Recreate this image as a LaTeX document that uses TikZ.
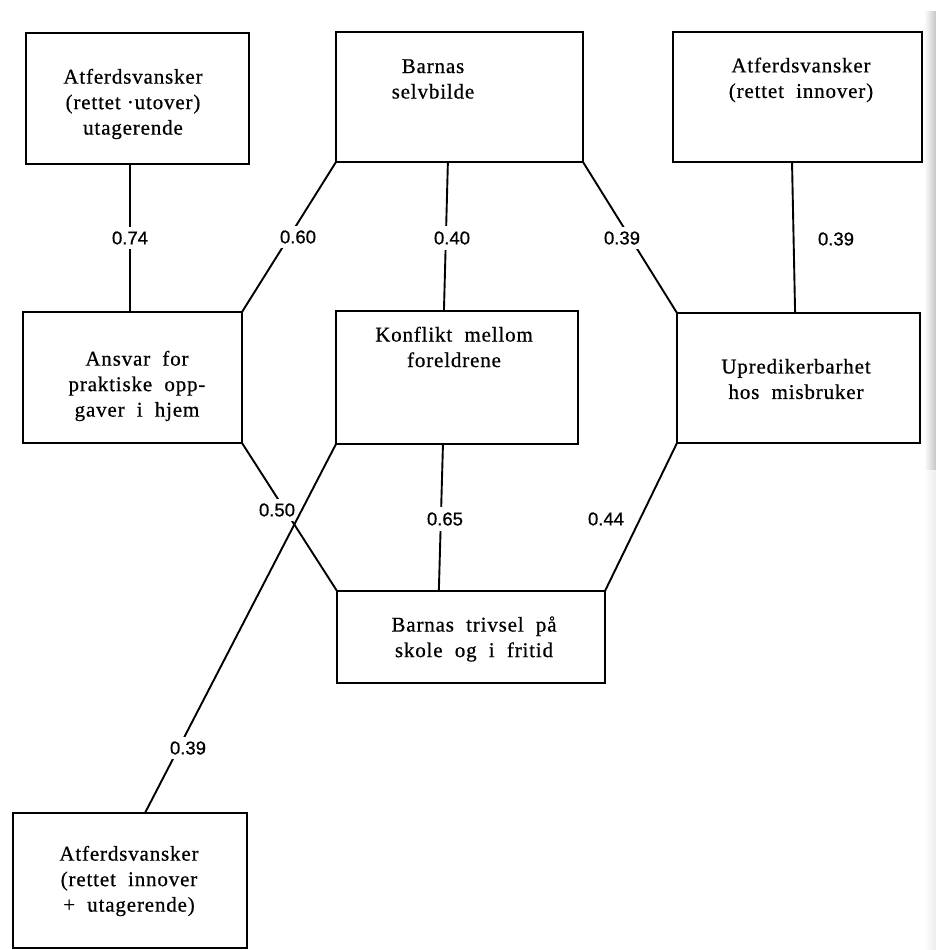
\documentclass[tikz,border=0pt]{standalone}
\usepackage{fontspec}
\setmainfont{Liberation Serif}[LetterSpace=4, FakeBold=0.6]
\newfontfamily\numfont{Liberation Sans}[FakeBold=0.8]
\usetikzlibrary{calc}
\begin{document}
\begin{tikzpicture}[x=1pt,y=-1pt,
  box/.style={draw, line width=2pt, inner sep=0pt, outer sep=0pt},
  txt/.style={align=center, inner sep=0pt, font=\fontsize{21}{25.5}\selectfont},
  num/.style={font=\numfont\fontsize{18.5}{20}\selectfont, inner sep=2pt},
  gap/.style={num, fill=white},
  conn/.style={line width=1.9pt}]
\useasboundingbox (0,0) rectangle (936,950);
\fill[white] (0,0) rectangle (936,950);
% page edge of the scan
\shade[left color=white, right color=gray!45] (924,12) rectangle (936,470);
\shade[left color=white, right color=gray!15] (924,470) rectangle (936,950);

% boxes
\node[box, minimum width=223pt, minimum height=131pt] (b1) at (137.5,98.5) {};
\node[box, minimum width=247pt, minimum height=130pt] (b2) at (459.5,97) {};
\node[box, minimum width=249pt, minimum height=130pt] (b3) at (797.5,97) {};
\node[box, minimum width=219pt, minimum height=131pt] (b4) at (132.5,377.5) {};
\node[box, minimum width=242pt, minimum height=133pt] (b5) at (457,377.5) {};
\node[box, minimum width=243pt, minimum height=130pt] (b6) at (798.5,378) {};
\node[box, minimum width=268pt, minimum height=92pt] (b7) at (471,637) {};
\node[box, minimum width=234pt, minimum height=135pt] (b8) at (130,880.5) {};

% texts
\node[txt] (t1) at (133,104) {Atferdsvansker\\(rettet ·utover)\\utagerende};
\node[txt] (t2) at (433,79) {Barnas\\selvbilde};
\node[txt] (t3) at (801,80) {Atferdsvansker\\(rettet\ \ innover)};
\node[txt] (t4) at (137,386) {Ansvar\ \ for\\praktiske\ \ opp-\\gaver\ \ i\ \ hjem};
\node[txt] (t5) at (454,347) {Konflikt\ \ mellom\\foreldrene};
\node[txt] (t6) at (796,379) {Upredikerbarhet\\hos\ \ misbruker};
\node[txt] (t7) at (474,639) {Barnas\ \ trivsel\ \ på\\skole\ \ og\ \ i\ \ fritid};
\node[txt] (t8) at (129,881) {Atferdsvansker\\(rettet\ \ innover\\+\ \ utagerende)};

% attachment points
\coordinate (c1) at ($(b1.south west)!0.466!(b1.south east)$);
\coordinate (c2) at ($(b2.south west)!0.453!(b2.south east)$);
\coordinate (c3) at ($(b5.north west)!0.446!(b5.north east)$);
\coordinate (c4) at ($(b3.south west)!0.478!(b3.south east)$);
\coordinate (c5) at ($(b6.north west)!0.486!(b6.north east)$);
\coordinate (c6) at ($(b5.south west)!0.442!(b5.south east)$);
\coordinate (c7) at ($(b7.north west)!0.38!(b7.north east)$);
\coordinate (c8) at ($(b8.north west)!0.564!(b8.north east)$);

% connectors
\draw[conn] (c1) -- (c1 |- b4.north);
\draw[conn] (b2.south west) -- (b4.north east);
\draw[conn] (c2) -- (c3);
\draw[conn] (b2.south east) -- (b6.north west);
\draw[conn] (c4) -- (c5);
\draw[conn] (b4.south east) -- (b7.north west);
\draw[conn] (c6) -- (c7);
\draw[conn] (b6.south west) -- (b7.north east);

% labels (white where the line is broken)
\node[gap, inner ysep=4pt] (l74) at (130,238) {0.74};
\node[gap, inner xsep=4pt, inner ysep=4pt] (l60) at (298,237) {0.60};
\node[gap, inner ysep=5pt] (l40) at (452,238) {0.40};
\node[gap, inner xsep=4pt, inner ysep=4pt] (l39a) at (622,238) {0.39};
\node[num] (l39b) at (836,239) {0.39};
\node[gap, inner ysep=4pt] (l50) at (277,510) {0.50};
\node[gap, inner ysep=5pt] (l65) at (445,519) {0.65};
\node[num] (l44) at (606,519) {0.44};

% long connector drawn over the crossing
\draw[conn] (b5.south west) -- (c8);
\node[gap, inner xsep=4pt, inner ysep=4pt] (l39c) at (188,748) {0.39};
\end{tikzpicture}
\end{document}
